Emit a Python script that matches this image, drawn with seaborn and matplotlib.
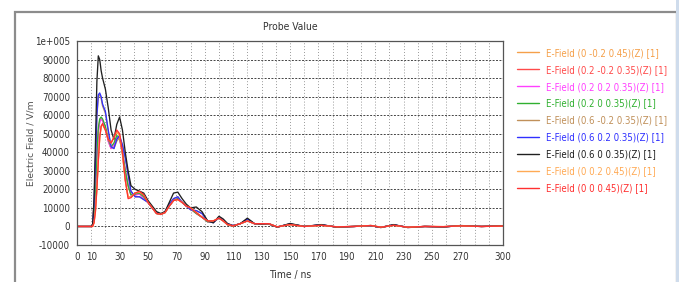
import numpy as np
import pandas as pd
import matplotlib
matplotlib.use("Agg")
import matplotlib.pyplot as plt
from matplotlib import font_manager
from matplotlib.patches import Rectangle
import seaborn as sns

# ---------------- data (values in kV/m) ----------------
time_ns = [0, 10, 11, 12, 13, 14, 15, 16, 17, 18, 20, 22, 24, 26, 28, 30, 32, 34, 36, 38,
           41, 44, 47, 50, 53, 56, 59, 62, 65, 68, 71, 74, 77, 80, 84, 88, 92, 96, 100, 103,
           106, 110, 115, 120, 125, 130, 135, 141, 150, 160, 172, 183, 195, 207, 214, 223,
           233, 245, 258, 270, 285, 300]

e_0_m02_045 = [0, 0, 0, 2, 9, 21, 36, 48, 54, 55, 52, 47, 45, 48, 51, 49, 39, 25, 16, 16,
               18, 18.5, 17, 13, 10, 7, 6.5, 7.5, 11, 14, 14.5, 13, 11, 10, 7.5, 5, 3, 3, 4.5, 3,
               1, 0.3, 1.5, 3, 1.5, 1.5, 1.5, -0.2, 1, 0, 0.6, -0.2, 0, 0.5, -0.4, 0.6,
               -0.4, 0, -0.1, 0.3, 0, 0.2]
e_02_m02_035 = [0, 0, 0.5, 4, 18, 38, 51, 57, 58, 57, 53, 46, 42, 44, 48, 47, 40, 30, 22, 17,
                17, 17.5, 15.5, 13, 10, 7, 6.5, 7.5, 11, 14, 15, 13, 11, 9.5, 7, 5, 2.5, 2.5, 4.5, 3,
                1, 0.3, 1.5, 3, 1.5, 1.3, 1.3, -0.3, 1.2, 0, 0.8, -0.3, 0, 0.4, -0.5, 0.8,
                -0.5, 0, -0.2, 0.4, 0, 0.3]
e_02_02_035 = [0, 0, 0.5, 4, 18, 38, 51, 56, 58, 57, 53, 46, 42, 44, 48, 47, 40, 30, 22, 17,
               17, 17.5, 15.5, 13, 10, 7, 6.5, 7.5, 11, 14, 15, 13, 11, 9.5, 7, 5, 2.5, 2.5, 4.5, 3,
               1, 0.3, 1.5, 3, 1.5, 1.3, 1.3, -0.3, 1.2, 0, 0.8, -0.3, 0, 0.4, -0.5, 0.8,
               -0.5, 0, -0.2, 0.4, 0, 0.3]
e_02_0_035 = [0, 0, 0.5, 5, 20, 40, 53, 58, 59, 58, 54, 47, 43, 45, 49, 48, 40, 30, 22, 17,
              17.5, 18, 16, 13, 10, 7, 6.5, 7.5, 11, 14, 15, 13, 11, 9.5, 7, 5, 2.5, 2.5, 4.5, 3,
              1, 0.3, 1.5, 3, 1.5, 1.3, 1.3, -0.3, 1.2, 0, 0.8, -0.3, 0, 0.4, -0.5, 0.8,
              -0.5, 0, -0.2, 0.4, 0, 0.3]
e_06_m02_035 = [0, 0, 1, 12, 34, 59, 70, 71, 69, 65, 61, 51, 43, 42, 46, 48, 44, 37, 28, 19,
                16, 16, 14.5, 13, 10, 7.5, 6.5, 8, 12, 15, 16, 13, 11, 9, 8.5, 7, 3, 2, 5, 3.5,
                1.5, 0.5, 1.5, 4, 1.5, 1.2, 1.5, -0.3, 1.4, 0, 0.9, -0.3, 0, 0.4, -0.5, 0.9,
                -0.5, 0, -0.2, 0.4, 0, 0.3]
e_06_02_035 = [0, 0, 1, 12, 35, 60, 71, 72, 70, 66, 62, 52, 43, 42, 47, 49, 44, 37, 28, 19,
               16, 16, 14.5, 13, 10, 7.5, 6.5, 8, 12, 15, 16, 13, 11, 9, 8.5, 7, 3, 2, 5, 3.5,
               1.5, 0.5, 1.5, 4, 1.5, 1.2, 1.5, -0.3, 1.4, 0, 0.9, -0.3, 0, 0.4, -0.5, 0.9,
               -0.5, 0, -0.2, 0.4, 0, 0.3]
e_06_0_035 = [0, 0, 1, 15, 45, 78, 92, 90, 84, 80, 74, 64, 52, 47, 55, 59, 52, 40, 30, 22,
              20, 19, 18, 14, 11, 8, 7, 8, 13, 18, 18.5, 15, 12, 10, 10.5, 8, 3, 2, 5.5, 4,
              1.5, 0.3, 1.5, 4.5, 1.5, 1.2, 1.5, -0.4, 1.6, 0, 1, -0.4, 0, 0.5, -0.6, 1,
              -0.6, 0, -0.3, 0.5, 0, 0.4]
e_0_02_045 = [0, 0, 0, 2, 9, 21, 36, 48, 54, 55, 52, 47, 45, 48, 51, 49, 39, 25, 16, 16,
              18, 18.5, 17, 13, 10, 7, 6.5, 7.5, 11, 14, 14.5, 13, 11, 10, 7.5, 5, 3, 3, 4.5, 3,
              1, 0.3, 1.5, 3, 1.5, 1.5, 1.5, -0.2, 1, 0, 0.6, -0.2, 0, 0.5, -0.4, 0.6,
              -0.4, 0, -0.1, 0.3, 0, 0.2]
e_0_0_045 = [0, 0, 0, 2, 8, 20, 35, 48, 54, 55.5, 52, 47, 45, 48, 52, 50, 40, 25, 15, 15.5,
             18, 19, 17, 13, 10, 7, 6.5, 7.5, 11, 14, 14.5, 13, 11, 10, 7.5, 5, 3, 3, 4.5, 3,
             1, 0.3, 1.5, 3, 1.5, 1.5, 1.5, -0.2, 1, 0, 0.6, -0.2, 0, 0.5, -0.4, 0.6,
             -0.4, 0, -0.1, 0.3, 0, 0.2]

series_names = [
    "E-Field (0 -0.2 0.45)(Z) [1]",
    "E-Field (0.2 -0.2 0.35)(Z) [1]",
    "E-Field (0.2 0.2 0.35)(Z) [1]",
    "E-Field (0.2 0 0.35)(Z) [1]",
    "E-Field (0.6 -0.2 0.35)(Z) [1]",
    "E-Field (0.6 0.2 0.35)(Z) [1]",
    "E-Field (0.6 0 0.35)(Z) [1]",
    "E-Field (0 0.2 0.45)(Z) [1]",
    "E-Field (0 0 0.45)(Z) [1]",
]
series_values = [e_0_m02_045, e_02_m02_035, e_02_02_035, e_02_0_035, e_06_m02_035,
                 e_06_02_035, e_06_0_035, e_0_02_045, e_0_0_045]
series_colors = ["#f5a04a", "#ff4a4a", "#ff40ff", "#30b030", "#c0905a",
                 "#3030ff", "#202020", "#ffaa55", "#ff3030"]

x_tick_labels = [0, 10, 30, 50, 70, 90, 110, 130, 150, 170, 190, 210, 230, 250, 270, 300]
y_tick_values = [-10000, 0, 10000, 20000, 30000, 40000, 50000, 60000, 70000, 80000, 90000, 100000]
y_tick_labels = ["-10000", "0", "10000", "20000", "30000", "40000", "50000", "60000",
                 "70000", "80000", "90000", "1e+005"]

rows = []
for name, vals in zip(series_names, series_values):
    for t, v in zip(time_ns, vals):
        rows.append({"Time": t, "E": v * 1000.0, "Probe": name})
df = pd.DataFrame(rows)

# ---------------- narrow font (DejaVu Sans Condensed if installed) ----------------
narrow_prop = None
for f in font_manager.fontManager.ttflist:
    if f.name == "DejaVu Sans" and str(f.stretch) == "condensed" and f.style == "normal" \
            and f.weight in (400, "normal", "regular"):
        narrow_prop = font_manager.FontProperties(fname=f.fname)
        break

sns.set_theme(style="white")
plt.rcParams["font.family"] = ["DejaVu Sans"]


def fp(size):
    if narrow_prop is not None:
        p = narrow_prop.copy()
        p.set_size(size)
        return p
    return font_manager.FontProperties(family="DejaVu Sans", size=size * 0.88)


fig = plt.figure(figsize=(6.81, 2.82), dpi=100)
fig.patch.set_facecolor("white")
fig.patches.append(Rectangle((15 / 681, -0.05), 662 / 681, 1 - 12 / 282 + 0.05,
                             transform=fig.transFigure, fill=False,
                             edgecolor="#8c8c8c", linewidth=1.6, zorder=0))
fig.patches.append(Rectangle((676 / 681, -0.05), 3 / 681, 1.1,
                             transform=fig.transFigure, facecolor="#cfdcec",
                             edgecolor="none", zorder=1))

ax = fig.add_axes([77 / 681, 1 - 245 / 282, 426 / 681, 204 / 282])
sns.lineplot(data=df, x="Time", y="E", hue="Probe", hue_order=series_names,
             palette=series_colors, linewidth=0.95, ax=ax, legend=True,
             estimator=None, sort=False)

ax.set_xlim(0, 300)
ax.set_ylim(-10000, 100000)
ax.set_xticks(x_tick_labels)
ax.set_xticklabels([str(v) for v in x_tick_labels])
ax.set_xticks(np.arange(10, 300, 10), minor=True)
ax.set_yticks(y_tick_values)
ax.set_yticklabels(y_tick_labels)
for lab in ax.get_xticklabels() + ax.get_yticklabels():
    lab.set_fontproperties(fp(7.0))

ax.tick_params(axis="both", which="both", direction="out",
               colors="#333333", length=3, width=0.8, pad=2)
ax.tick_params(axis="x", which="minor", length=2)

for s in ax.spines.values():
    s.set_color("#555555")
    s.set_linewidth(0.9)

for yv in np.arange(0, 100001, 10000):
    ax.axhline(yv, color="#444444", lw=0.7, ls=(0, (2, 1.5)), zorder=0.5)
for xv in np.arange(10, 300, 10):
    ax.axvline(xv, color="#9a9a9a", lw=0.7, ls=(0, (1, 2)), zorder=0.5)

ax.set_xlabel("Time / ns", fontproperties=fp(7.4), color="#333333", labelpad=6)
ax.set_ylabel("Electric Field / V/m", fontsize=6.6, color="#505050",
              family=["DejaVu Sans"])
ax.yaxis.set_label_coords(-0.098, 0.5)
ax.set_title("Probe Value", fontproperties=fp(7.4), color="#333333", pad=8)

leg = ax.legend(loc="upper left", bbox_to_anchor=(513 / 681, 1 - 44 / 282),
                bbox_transform=fig.transFigure, frameon=False, prop=fp(6.9),
                handlelength=2.3, handletextpad=0.7, labelspacing=0.72,
                borderaxespad=0)
for txt, col, line in zip(leg.get_texts(), series_colors, leg.get_lines()):
    txt.set_color(col)
    line.set_linewidth(1.0)

fig.savefig("out.png", dpi=100)
